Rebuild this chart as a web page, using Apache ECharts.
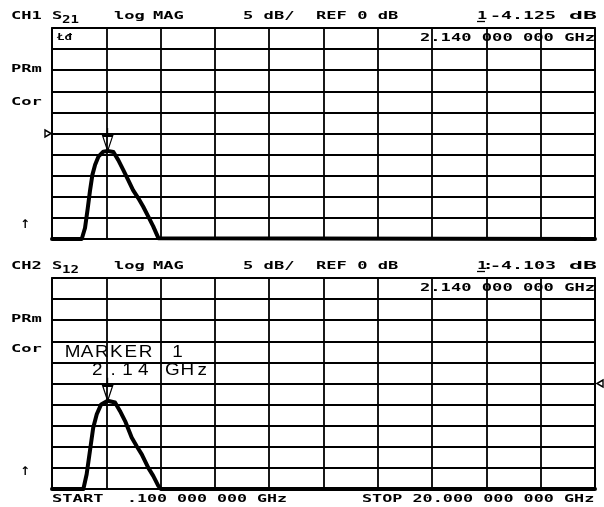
<!DOCTYPE html>
<html><head><meta charset="utf-8">
<script src="https://cdn.jsdelivr.net/npm/echarts@6/dist/echarts.min.js"></script>
<style>html,body{margin:0;padding:0;background:#fff}#c{width:604px;height:507px}</style>
</head><body><div id="c"></div>
<script>
// ---- data ----
const freqStartGHz = 0.1, freqStopGHz = 20;
const dbPerDiv = 5, refDb = 0;
const ch1FreqGHz = [0.1, 1.19, 1.31, 1.41, 1.49, 1.58, 1.68, 1.80, 1.98, 2.14, 2.35, 2.53, 2.71, 2.89, 3.07, 3.26, 3.44, 3.63, 3.81, 4.00, 4.06, 20];
const ch1S21dB  = [-25, -25, -22.4, -17.7, -13.7, -9.8, -7.4, -5.5, -4.3, -4.125, -4.4, -6.3, -8.6, -11.0, -13.4, -15.3, -17.3, -19.7, -22.0, -24.8, -25, -25];
const ch2FreqGHz = [0.1, 1.25, 1.37, 1.49, 1.61, 1.74, 1.90, 2.14, 2.41, 2.59, 2.78, 3.02, 3.20, 3.39, 3.63, 3.81, 4.00, 4.09, 20];
const ch2S12dB  = [-25, -25, -21.5, -16.0, -10.5, -7.3, -4.95, -4.103, -4.5, -6.5, -8.9, -12.8, -14.8, -16.8, -20.0, -21.9, -24.3, -25, -25];
const markerGHz = 2.14;
const markerDb = [-4.125, -4.103];
const divisions = 10;

// ---- chart ----
const chart = echarts.init(document.getElementById('c'), null, {renderer: 'canvas'});
const BLACK = '#000';
const gridBoxes = [{top: 28}, {top: 278}];

const grids = gridBoxes.map(g => ({left: 52, top: g.top, width: 543, height: 211, show: true,
  borderColor: BLACK, borderWidth: 1.8, backgroundColor: 'transparent'}));

const xAxes = [], yAxes = [];
gridBoxes.forEach((g, i) => {
  xAxes.push({gridIndex: i, type: 'value', min: freqStartGHz, max: freqStopGHz, show: false});
  xAxes.push({gridIndex: i, type: 'value', min: 0, max: divisions, interval: 1,
    axisLine: {show: false}, axisTick: {show: false}, axisLabel: {show: false},
    splitLine: {show: true, lineStyle: {color: BLACK, width: 1.8}}});
  yAxes.push({gridIndex: i, type: 'value', min: refDb - 5 * dbPerDiv, max: refDb + 5 * dbPerDiv, interval: dbPerDiv,
    axisLine: {show: false}, axisTick: {show: false}, axisLabel: {show: false},
    splitLine: {show: true, lineStyle: {color: BLACK, width: 1.8}}});
});

function zip(a, b) { return a.map((v, i) => [v, b[i]]); }

const markerSym = 'path://M5,0L5,8M0,8L10,8L5,23Z';
function traceSeries(i, fx, dy, refAtLeft) {
  return {
    type: 'line', xAxisIndex: i * 2, yAxisIndex: i, data: zip(fx, dy),
    showSymbol: false, clip: true, animation: false, silent: true,
    lineStyle: {color: BLACK, width: 4, join: 'round', cap: 'round'},
    markPoint: {
      silent: true, animation: false, label: {show: false},
      data: [
        {coord: [markerGHz, markerDb[i]], symbol: markerSym, symbolSize: [10, 23], symbolOffset: [0, '-50%'],
          itemStyle: {color: 'transparent', borderColor: BLACK, borderWidth: 1.5}},
        refAtLeft
          ? {coord: [freqStartGHz, refDb], symbol: 'path://M0,0L8,4L0,8Z', symbolSize: [6, 7], symbolOffset: [-4, 0],
              itemStyle: {color: '#fff', borderColor: BLACK, borderWidth: 1.5}}
          : {coord: [freqStopGHz, refDb], symbol: 'path://M8,0L0,4L8,8Z', symbolSize: [6, 7], symbolOffset: [5, 0],
              itemStyle: {color: '#fff', borderColor: BLACK, borderWidth: 1.5}}
      ]
    }
  };
}

// ---- text helpers ----
const MONO = 'DejaVu Sans Mono';
const ADV = 0.6021;
function t(text, x, y, pitch, size) {
  size = size || 11;
  pitch = pitch || 10.3;
  return {type: 'text', x: x, y: y, scaleX: pitch / (ADV * size), silent: true, z: 50,
    style: {text: text, font: 'bold ' + size + 'px "' + MONO + '"', fill: BLACK, verticalAlign: 'middle', align: 'left'}};
}
function placed(list, y, font) {
  return list.map(p => ({type: 'text', x: p[1], y: y, scaleX: 1.18, silent: true, z: 50,
    style: {text: p[0], font: font, fill: BLACK, verticalAlign: 'middle', align: 'center'}}));
}
function uline(x1, x2, y) {
  return {type: 'line', silent: true, z: 50, shape: {x1: x1, y1: y, x2: x2, y2: y}, style: {stroke: BLACK, lineWidth: 1.3}};
}
function arrow(x, y) {
  return {type: 'text', x: x, y: y, silent: true, z: 50,
    style: {text: '\u2191', font: 'bold 12px "DejaVu Sans"', fill: BLACK, verticalAlign: 'middle', align: 'center'}};
}

const BIG = '16px "Liberation Sans"';
const graphics = [
  // channel 1 header
  t('CH1', 11, 16), t('S', 52, 16), t('21', 62, 20.5, 8.5),
  t('log', 114, 16), t('MAG', 153, 16), t('5 dB/', 243, 16),
  t('REF 0 dB', 316, 16), t('1', 477, 16), uline(477, 485, 21.5),
  t('-4.125', 490, 16, 11), t('dB', 569, 16, 14),
  t('2.140 000 000 GHz', 420, 38),
  t('\u0141\u0111', 57, 38, 7.5, 9),
  t('PRm', 11, 69.5), t('Cor', 11, 102), arrow(25, 225),
  // channel 2 header
  t('CH2', 11, 266), t('S', 52, 266), t('12', 62, 270.5, 8.5),
  t('log', 114, 266), t('MAG', 153, 266), t('5 dB/', 243, 266),
  t('REF 0 dB', 316, 266), t('1', 477, 266), uline(477, 485, 271.5),
  t(':', 483, 266), t('-4.103', 490, 266, 11), t('dB', 569, 266, 14),
  t('2.140 000 000 GHz', 420, 288),
  t('PRm', 11, 319), t('Cor', 11, 349), arrow(25, 472),
  // bottom annotations
  t('START', 52, 499.5, 10.3), t('.100 000 000 GHz', 127, 499.5, 10),
  t('STOP 20.000 000 000 GHz', 362, 499.5, 10.1)
].concat(
  placed([['M', 72.5], ['A', 87.1], ['R', 101.7], ['K', 116.3], ['E', 130.9], ['R', 145.5], ['1', 177.5]], 352.5, BIG),
  placed([['2', 97.3], ['.', 113], ['1', 127.5], ['4', 143.3], ['G', 172.3], ['H', 187.3], ['z', 202.3]], 370.5, BIG)
);

chart.setOption({
  animation: false,
  backgroundColor: '#fff',
  grid: grids,
  xAxis: xAxes,
  yAxis: yAxes,
  series: [
    traceSeries(0, ch1FreqGHz, ch1S21dB, true),
    traceSeries(1, ch2FreqGHz, ch2S12dB, false)
  ],
  graphic: graphics
});
</script></body></html>
